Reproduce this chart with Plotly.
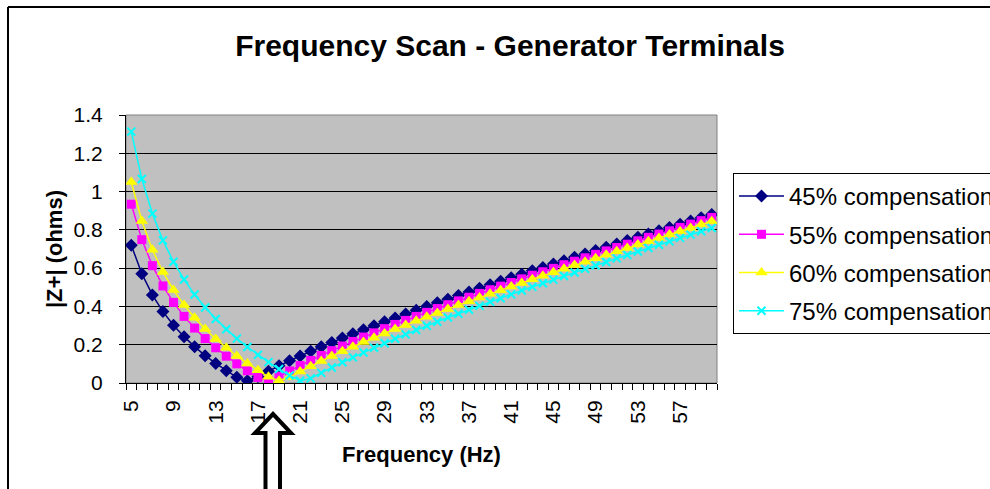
import plotly.graph_objects as go

# frequency (Hz), one point per Hz
freq = list(range(5, 61))

z_45 = [0.720, 0.571, 0.460, 0.373, 0.302, 0.242, 0.190, 0.143, 0.102, 0.064,
        0.030, 0.012, 0.033, 0.062, 0.090, 0.116, 0.141, 0.166, 0.189, 0.212,
        0.235, 0.257, 0.278, 0.299, 0.320, 0.340, 0.360, 0.380, 0.400, 0.419,
        0.438, 0.457, 0.476, 0.495, 0.513, 0.531, 0.550, 0.568, 0.586, 0.604,
        0.621, 0.639, 0.657, 0.674, 0.692, 0.709, 0.726, 0.744, 0.761, 0.778,
        0.795, 0.812, 0.829, 0.846, 0.863, 0.880]

z_55 = [0.934, 0.749, 0.613, 0.507, 0.421, 0.348, 0.287, 0.232, 0.184, 0.140,
        0.100, 0.064, 0.029, 0.012, 0.034, 0.063, 0.091, 0.118, 0.144, 0.169,
        0.193, 0.217, 0.240, 0.262, 0.284, 0.306, 0.327, 0.348, 0.369, 0.389,
        0.409, 0.429, 0.448, 0.468, 0.487, 0.506, 0.525, 0.544, 0.563, 0.581,
        0.599, 0.618, 0.636, 0.654, 0.672, 0.690, 0.708, 0.725, 0.743, 0.761,
        0.778, 0.795, 0.813, 0.830, 0.848, 0.865]

z_60 = [1.050, 0.846, 0.696, 0.580, 0.486, 0.408, 0.341, 0.282, 0.230, 0.184,
        0.141, 0.102, 0.066, 0.032, 0.012, 0.031, 0.060, 0.088, 0.115, 0.141,
        0.166, 0.190, 0.214, 0.237, 0.259, 0.282, 0.303, 0.325, 0.346, 0.366,
        0.387, 0.407, 0.427, 0.446, 0.466, 0.485, 0.504, 0.523, 0.542, 0.560,
        0.579, 0.597, 0.616, 0.634, 0.652, 0.670, 0.688, 0.705, 0.723, 0.741,
        0.758, 0.776, 0.793, 0.810, 0.828, 0.845]

z_75 = [1.313, 1.066, 0.885, 0.745, 0.633, 0.541, 0.462, 0.394, 0.334, 0.281,
        0.232, 0.188, 0.147, 0.109, 0.073, 0.039, 0.012, 0.024, 0.053, 0.081,
        0.108, 0.134, 0.159, 0.184, 0.208, 0.231, 0.254, 0.277, 0.299, 0.320,
        0.342, 0.362, 0.383, 0.403, 0.424, 0.443, 0.463, 0.483, 0.502, 0.521,
        0.540, 0.559, 0.577, 0.596, 0.614, 0.632, 0.651, 0.669, 0.687, 0.705,
        0.722, 0.740, 0.758, 0.775, 0.793, 0.810]

x_ticks = list(range(5, 58, 4))

FONT = "Liberation Sans, Arial, sans-serif"

# plot area in pixels (for placing the frame and the arrow)
L, R, T, B = 126, 717, 115, 383


def px(x):
    return (x - L) / (R - L)


def py(y):
    return (B - y) / (B - T)


series = [
    ("45% compensation", z_45, "#000080", "diamond", 10),
    ("55% compensation", z_55, "#FF00FF", "square", 9),
    ("60% compensation", z_60, "#FFFF00", "triangle-up", 11),
    ("75% compensation", z_75, "#00FFFF", "x-thin", 8),
]

fig = go.Figure()
for name, vals, color, sym, size in series:
    marker = dict(symbol=sym, size=size, color=color)
    if sym == "x-thin":
        marker["line"] = dict(color=color, width=2)
    fig.add_trace(go.Scatter(
        x=freq, y=vals, name=name, mode="lines+markers",
        line=dict(color=color, width=1.5), marker=marker,
        legendgroup=name,
    ))

# plot area border (grey) like Excel
fig.add_shape(type="rect", xref="paper", yref="paper", x0=0, x1=1, y0=0, y1=1,
              line=dict(color="#808080", width=1), layer="below")

# outer chart frame (top and left edges visible)
fig.add_shape(type="line", xref="paper", yref="paper",
              x0=px(8), x1=px(1000), y0=py(7), y1=py(7),
              line=dict(color="black", width=2))
fig.add_shape(type="line", xref="paper", yref="paper",
              x0=px(8), x1=px(8), y0=py(7), y1=py(500),
              line=dict(color="black", width=2))

# hollow arrow pointing at the resonance
pts = [(273, 414), (291, 433), (280, 433), (280, 495), (265.5, 495),
       (265.5, 433), (255, 433)]
path = "M " + " L ".join(f"{px(a):.5f},{py(b):.5f}" for a, b in pts) + " Z"
fig.add_shape(type="path", xref="paper", yref="paper", path=path,
              fillcolor="white", line=dict(color="black", width=4))

fig.update_layout(
    width=990, height=489,
    margin=dict(l=L, r=990 - R, t=T, b=489 - B, autoexpand=False),
    paper_bgcolor="white", plot_bgcolor="#C0C0C0",
    font=dict(family=FONT, size=21, color="black"),
    title=dict(text="<b>Frequency Scan - Generator Terminals</b>",
               x=510 / 990, xanchor="center", y=1 - 45 / 489, yanchor="middle",
               font=dict(size=30)),
    legend=dict(x=px(733), y=py(173), xanchor="left", yanchor="top",
                bgcolor="white", bordercolor="black", borderwidth=1,
                tracegroupgap=4, itemwidth=45, font=dict(size=24)),
    showlegend=True,
)

fig.update_xaxes(
    range=[4.5, 60.5], tickmode="array", tickvals=x_ticks,
    ticks="", tickangle=-90, ticklabelstandoff=8,
    showgrid=False, zeroline=False,
    showline=True, linecolor="black", linewidth=1,
    minor=dict(tickmode="linear", tick0=4.5, dtick=1, ticks="outside",
               ticklen=6, tickcolor="black", showgrid=False),
    title=dict(text="<b>Frequency (Hz)</b>", font=dict(size=22), standoff=23),
)

fig.update_yaxes(
    range=[0, 1.4], tickmode="linear", tick0=0, dtick=0.2,
    ticks="outside", ticklen=6, tickcolor="black", ticklabelstandoff=12,
    showgrid=True, gridcolor="black", gridwidth=1, zeroline=False,
    showline=True, linecolor="black", linewidth=1,
    title=dict(text="<b>|Z+| (ohms)</b>", font=dict(size=22), standoff=4),
)

fig.write_html("out.html",
               config={"displayModeBar": False},
               post_script="document.body.style.margin='0';"
                           "document.body.style.overflow='hidden';")
